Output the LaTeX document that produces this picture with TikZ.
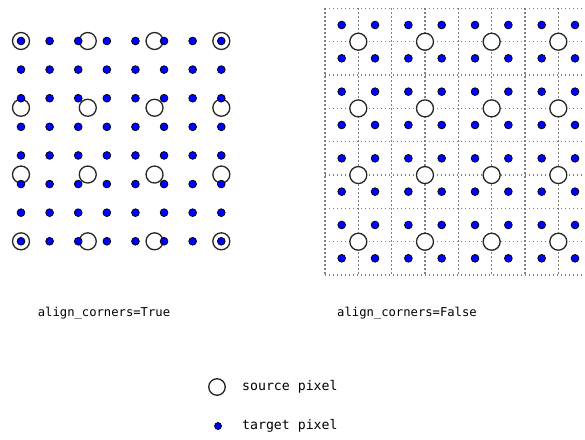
\documentclass[tikz,border=0pt]{standalone}
\usepackage{fontspec}
\setmonofont{DejaVu Sans Mono}

\begin{document}
\begin{tikzpicture}[x=1pt,y=-1pt,
  srcpix/.style={circle,draw=black!85,fill=white,line width=1.3pt,inner sep=0pt,minimum size=17pt},
  tgtpix/.style={circle,draw=black,fill=blue,line width=0.7pt,inner sep=0pt,minimum size=7.8pt},
  gridline/.style={gray,line width=1.2pt,dash pattern=on 1.2pt off 2.8pt},
  caption/.style={font=\ttfamily\fontsize{12.2}{15}\selectfont,inner sep=0pt},
  keytext/.style={font=\ttfamily\fontsize{13.2}{15}\selectfont,inner sep=0pt,anchor=west}]
\useasboundingbox (0,0) rectangle (585,439);

% align_corners=True
\foreach \i in {0,...,3}
  \foreach \j in {0,...,3}
    \node[srcpix] (sa-\i-\j) at ({21+66.77*\i},{41+66.77*\j}) {};
\foreach \i in {0,...,7}
  \foreach \j in {0,...,7}
    \node[tgtpix] (ta-\i-\j) at ({21+28.61*\i},{41+28.61*\j}) {};

% align_corners=False
\foreach \m in {0,...,8}{
  \draw[gridline] ({325+33.33*\m},8.3) -- ({325+33.33*\m},275);
  \draw[gridline] (325,{8.3+33.33*\m}) -- (591.7,{8.3+33.33*\m});
}
\foreach \i in {0,...,3}
  \foreach \j in {0,...,3}
    \node[srcpix] (sb-\i-\j) at ({358.3+66.67*\i},{41.7+66.67*\j}) {};
\foreach \i in {0,...,7}
  \foreach \j in {0,...,7}
    \node[tgtpix] (tb-\i-\j) at ({341.7+33.33*\i},{25+33.33*\j}) {};

\node[caption] (capTrue) at (104,313) {align\_corners=True};
\node[caption] (capFalse) at (407,313) {align\_corners=False};

% legend
\node[srcpix,minimum size=16.5pt] (keySrc) at (217,387) {};
\node[tgtpix,minimum size=7pt] (keyTgt) at (218,426) {};
\node[keytext] (keySrcText) at (242,387) {source pixel};
\node[keytext] (keyTgtText) at (242,426) {target pixel};
\end{tikzpicture}
\end{document}
